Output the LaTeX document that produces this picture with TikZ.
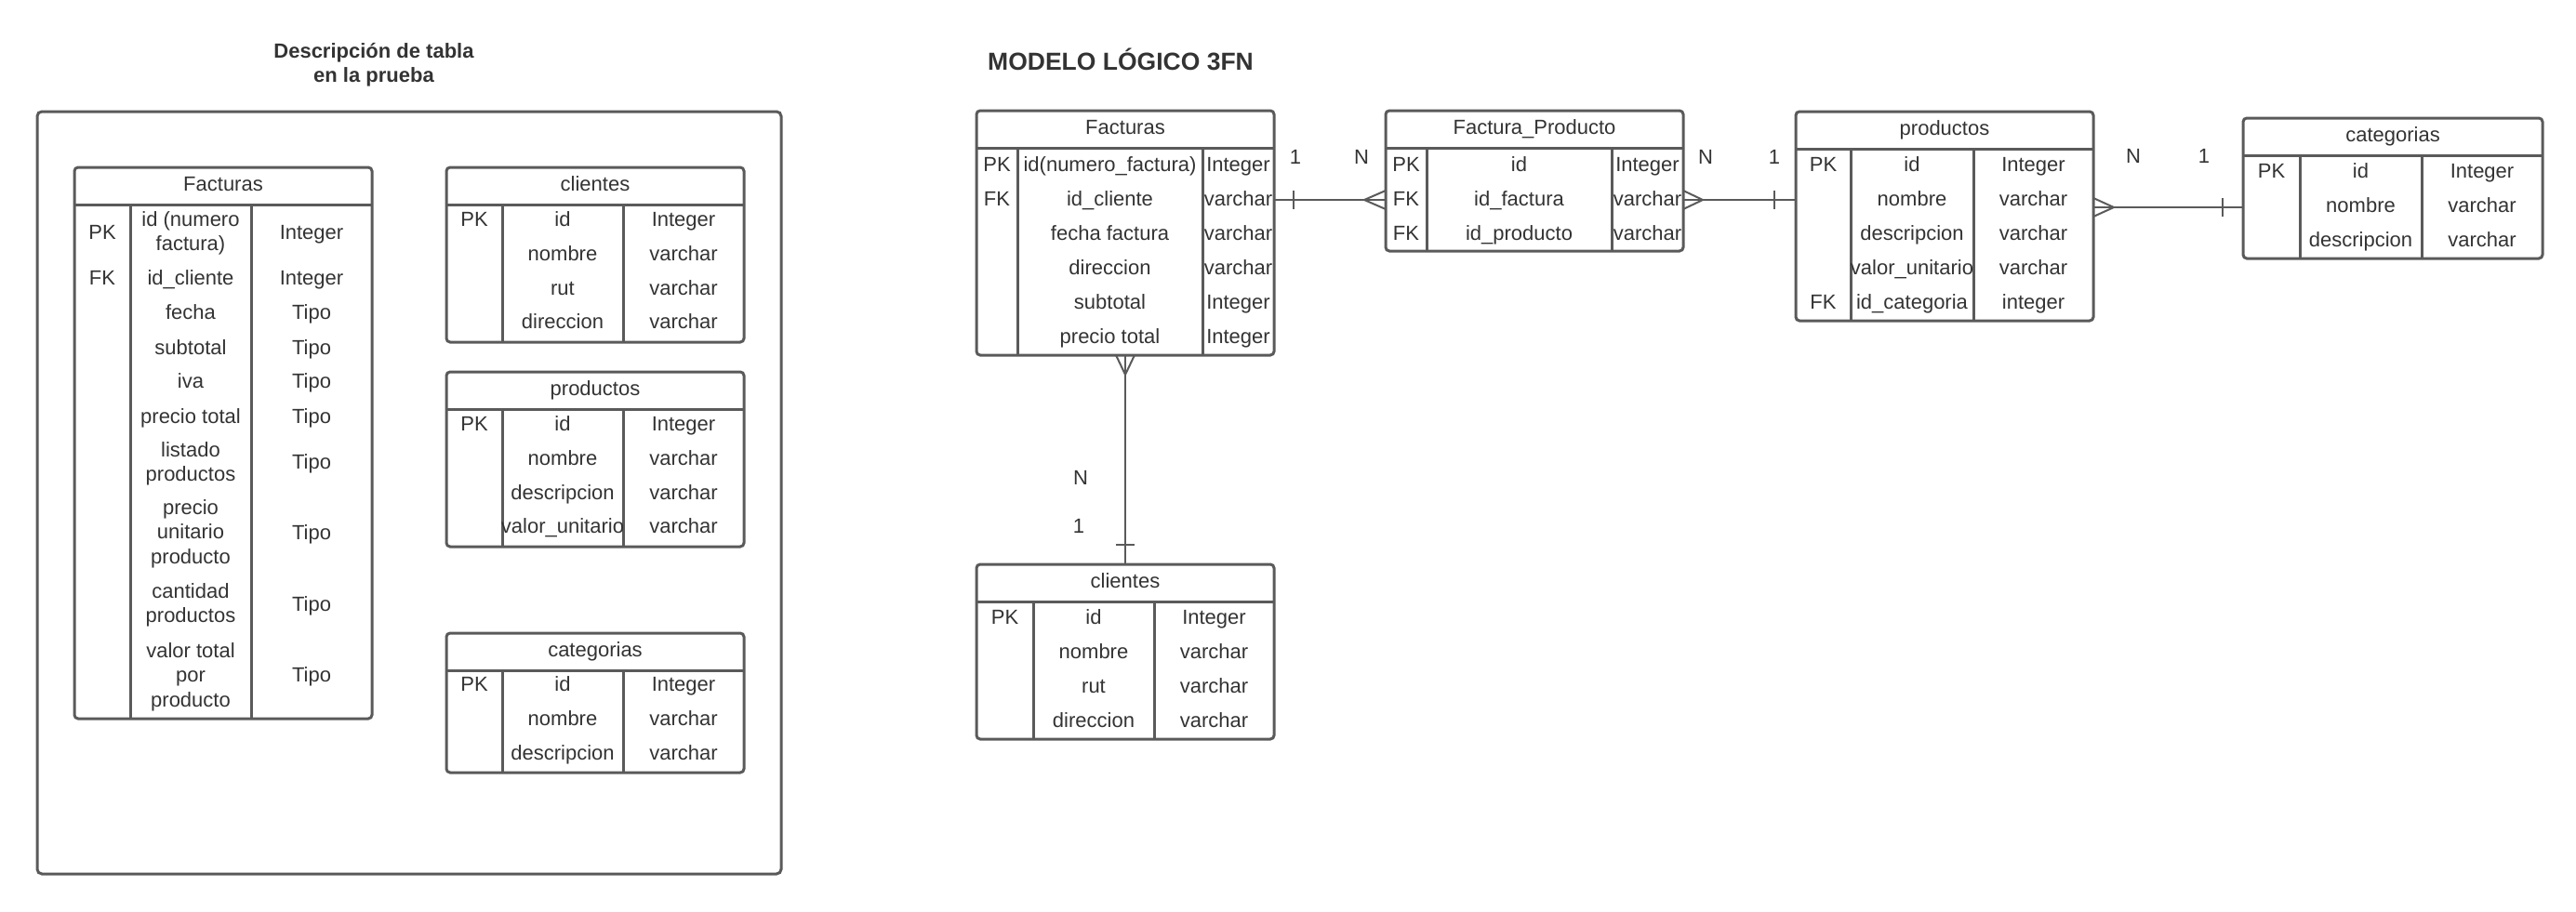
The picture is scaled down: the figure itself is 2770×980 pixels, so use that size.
\documentclass[tikz,border=0pt]{standalone}
\usepackage{fontspec}
\setmainfont{Liberation Sans}
\definecolor{ln}{HTML}{5A5A5A}
\definecolor{tx}{HTML}{333333}
\tikzset{
 tframe/.style={draw=ln, line width=3pt, rounded corners=4pt, rectangle, inner sep=0pt, outer sep=0pt},
 tline/.style={draw=ln, line width=3pt},
 txt/.style={anchor=base, inner sep=0pt, outer sep=0pt, text=tx, font=\fontsize{22}{26}\selectfont},
 ttl/.style={anchor=base, inner sep=0pt, text=tx, font=\bfseries\fontsize{22}{26}\selectfont},
 bigttl/.style={anchor=base west, inner sep=0pt, text=tx, font=\bfseries\fontsize{26.5}{30}\selectfont},
 conn/.style={draw=ln, line width=2pt},
}
\newcommand\mlines[1]{\vtop{\baselineskip=26.5pt\lineskiplimit=-20pt\halign{\hfil##\hfil\cr#1\crcr}}}
\newcommand\erdtable[9]{%
 \pgfmathsetmacro\tcA{(#2+#3)/2}%
 \pgfmathsetmacro\tcB{(#3+#4)/2}%
 \pgfmathsetmacro\tcC{(#4+#5)/2}%
 \pgfmathsetmacro\tcM{(#2+#5)/2}%
 \pgfmathsetmacro\tcH{(#6+#7)/2+5.5}%
 \node[tframe, anchor=north west, minimum width={(#5-#2)*1pt}, minimum height={(#8-#6)*1pt}] (#1) at (#2,#6) {};
 \draw[tline] (#2,#7) -- (#5,#7) (#3,#7) -- (#3,#8) (#4,#7) -- (#4,#8);
 \node[txt] (#1-h) at (\tcM,\tcH) {#9};
}
\newcommand\erdrow[5]{%
 \if\relax\detokenize{#3}\relax\else\node[txt] (#1-k) at (\tcA,#2) {#3};\fi
 \node[txt] (#1-f) at (\tcB,#2) {#4};
 \node[txt] (#1-t) at (\tcC,#2) {#5};}
\newcommand\erdrowm[6]{%
 \if\relax\detokenize{#4}\relax\else\node[txt] (#1-k) at (\tcA,#3) {#4};\fi
 \node[txt] (#1-f) at (\tcB,#2) {\mlines{#5}};
 \node[txt] (#1-t) at (\tcC,#3) {#6};}
\begin{document}
\begin{tikzpicture}[x=1pt,y=-1pt]
\useasboundingbox (0,0) rectangle (2770,980);
% ---------- left panel ----------
\node[ttl] (t1) at (402,62) {\mlines{Descripción de tabla\cr en la prueba}};
\node[tframe, rounded corners=5pt, anchor=north west, minimum width=800pt, minimum height=820pt] (outer) at (40,120) {};

\erdtable{fL}{80}{140}{270}{400}{180}{220}{773}{Facturas}
\erdrowm{fLa}{243}{257}{PK}{id (numero\cr factura)}{Integer}
\erdrow{fLb}{306}{FK}{id\_cliente}{Integer}
\erdrow{fLc}{343}{}{fecha}{Tipo}
\erdrow{fLd}{381}{}{subtotal}{Tipo}
\erdrow{fLe}{417}{}{iva}{Tipo}
\erdrow{fLf}{455}{}{precio total}{Tipo}
\erdrowm{fLg}{491}{504}{}{listado\cr productos}{Tipo}
\erdrowm{fLh}{553}{580}{}{precio\cr unitario\cr producto}{Tipo}
\erdrowm{fLi}{643}{657}{}{cantidad\cr productos}{Tipo}
\erdrowm{fLj}{707}{733}{}{valor total\cr por\cr producto}{Tipo}

\erdtable{cL}{480}{540}{670}{800}{180}{220}{368}{clientes}
\erdrow{cLa}{243}{PK}{id}{Integer}
\erdrow{cLb}{280}{}{nombre}{varchar}
\erdrow{cLc}{317}{}{rut}{varchar}
\erdrow{cLd}{353}{}{direccion}{varchar}

\erdtable{pL}{480}{540}{670}{800}{400}{440}{588}{productos}
\erdrow{pLa}{463}{PK}{id}{Integer}
\erdrow{pLb}{500}{}{nombre}{varchar}
\erdrow{pLc}{537}{}{descripcion}{varchar}
\erdrow{pLd}{573}{}{valor\_unitario}{varchar}

\erdtable{gL}{480}{540}{670}{800}{681}{721}{831}{categorias}
\erdrow{gLa}{743}{PK}{id}{Integer}
\erdrow{gLb}{780}{}{nombre}{varchar}
\erdrow{gLc}{817}{}{descripcion}{varchar}

% ---------- right panel ----------
\node[bigttl] (t2) at (1062,75) {MODELO LÓGICO 3FN};

\erdtable{fR}{1050}{1094}{1293}{1370}{119}{159}{382}{Facturas}
\erdrow{fRa}{184}{PK}{id(numero\_factura)}{Integer}
\erdrow{fRb}{221}{FK}{id\_cliente}{varchar}
\erdrow{fRc}{258}{}{fecha factura}{varchar}
\erdrow{fRd}{295}{}{direccion}{varchar}
\erdrow{fRe}{332}{}{subtotal}{Integer}
\erdrow{fRf}{369}{}{precio total}{Integer}

\erdtable{fp}{1490}{1534}{1733}{1810}{119}{159}{270}{Factura\_Producto}
\erdrow{fpa}{184}{PK}{id}{Integer}
\erdrow{fpb}{221}{FK}{id\_factura}{varchar}
\erdrow{fpc}{258}{FK}{id\_producto}{varchar}

\erdtable{pR}{1931}{1990}{2122}{2251}{120}{160}{345}{productos}
\erdrow{pRa}{184}{PK}{id}{Integer}
\erdrow{pRb}{221}{}{nombre}{varchar}
\erdrow{pRc}{258}{}{descripcion}{varchar}
\erdrow{pRd}{295}{}{valor\_unitario}{varchar}
\erdrow{pRe}{332}{FK}{id\_categoria}{integer}

\erdtable{gR}{2412}{2473}{2604}{2734}{127}{167}{278}{categorias}
\erdrow{gRa}{191}{PK}{id}{Integer}
\erdrow{gRb}{228}{}{nombre}{varchar}
\erdrow{gRc}{265}{}{descripcion}{varchar}

\erdtable{cR}{1050}{1111}{1241}{1370}{607}{647}{795}{clientes}
\erdrow{cRa}{671}{PK}{id}{Integer}
\erdrow{cRb}{708}{}{nombre}{varchar}
\erdrow{cRc}{745}{}{rut}{varchar}
\erdrow{cRd}{782}{}{direccion}{varchar}

% ---------- connectors ----------
\coordinate (ya) at (0,215);
\coordinate (yb) at (0,223);
\coordinate (xc) at (1210,0);
% Facturas -- Factura_Producto
\draw[conn] (fR.east |- ya) -- (fp.west |- ya);
\draw[conn] ([xshift=21pt]fR.east |- ya) ++(0,-10) -- ++(0,20);
\draw[conn] ([xshift=-23pt]fp.west |- ya) -- ++(23,-10) ++(-23,10) -- ++(23,10);
% Factura_Producto -- productos
\draw[conn] (fp.east |- ya) -- (pR.west |- ya);
\draw[conn] ([xshift=21pt]fp.east |- ya) -- ++(-21,-10) ++(21,10) -- ++(-21,10);
\draw[conn] ([xshift=-23pt]pR.west |- ya) ++(0,-10) -- ++(0,20);
% productos -- categorias
\draw[conn] (pR.east |- yb) -- (gR.west |- yb);
\draw[conn] ([xshift=22pt]pR.east |- yb) -- ++(-22,-10) ++(22,10) -- ++(-22,10);
\draw[conn] ([xshift=-22pt]gR.west |- yb) ++(0,-10) -- ++(0,20);
% Facturas -- clientes
\draw[conn] (xc |- fR.south) -- (xc |- cR.north);
\draw[conn] ([yshift=-21pt]xc |- fR.south) -- ++(-10,-21) ++(10,21) -- ++(10,-21);
\draw[conn] ([yshift=21pt]xc |- cR.north) ++(-10,0) -- ++(20,0);

% cardinality labels
\node[txt] (l1) at (1393,176) {1};
\node[txt] (l2) at (1464,176) {N};
\node[txt] (l3) at (1834,176) {N};
\node[txt] (l4) at (1908,176) {1};
\node[txt] (l5) at (2294,175) {N};
\node[txt] (l6) at (2370,175) {1};
\node[txt] (l7) at (1162,521) {N};
\node[txt] (l8) at (1160,573) {1};
\end{tikzpicture}
\end{document}
